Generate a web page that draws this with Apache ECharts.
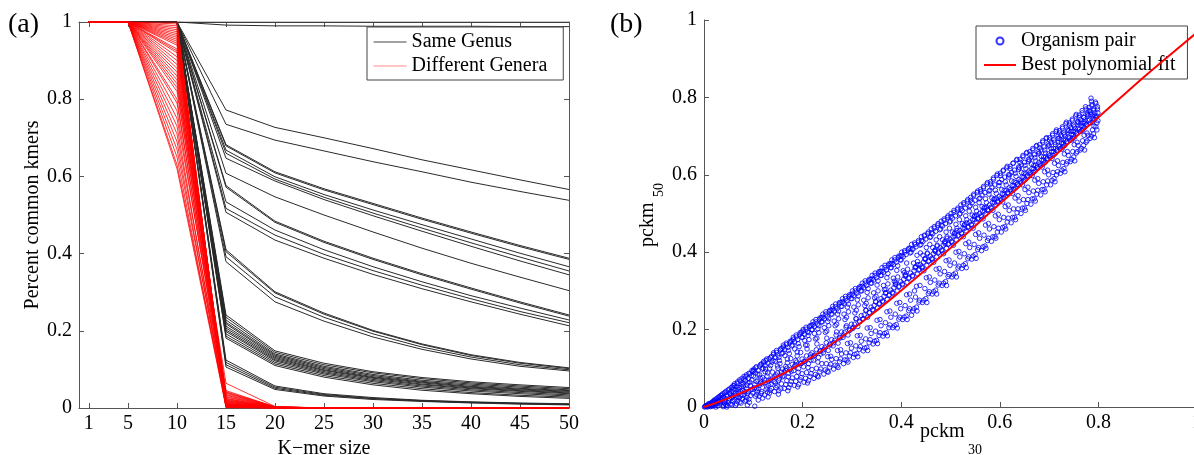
<!DOCTYPE html>
<html><head><meta charset="utf-8">
<script src="https://cdn.jsdelivr.net/npm/echarts@6/dist/echarts.min.js"></script>
<style>html,body{margin:0;padding:0;background:#fff;overflow:hidden}#chart{width:1194px;height:455px}</style>
</head><body><div id="chart"></div>
<script>
// ---------- Panel (a) data ----------
const kmerSizes = [1, 5, 10, 15, 20, 25, 30, 35, 40, 45, 50];
const kmerTicks = [1, 5, 10, 15, 20, 25, 30, 35, 40, 45, 50];

// Same genus: percent common kmers at each k-mer size
const sameGenusLines = [
  [1,1,1,1.000,1.000,1.000,1.000,1.000,1.000,1.000,1.000],
  [1,1,1,0.992,0.990,0.990,0.989,0.989,0.989,0.988,0.988],
  [1,1,1,0.772,0.727,0.700,0.672,0.643,0.617,0.591,0.566],
  [1,1,1,0.735,0.694,0.666,0.638,0.612,0.585,0.561,0.538],
  [1,1,1,0.682,0.612,0.568,0.530,0.492,0.456,0.421,0.388],
  [1,1,1,0.679,0.609,0.565,0.527,0.489,0.453,0.418,0.385],
  [1,1,1,0.668,0.599,0.553,0.513,0.475,0.438,0.401,0.366],
  [1,1,1,0.660,0.593,0.546,0.505,0.466,0.428,0.391,0.355],
  [1,1,1,0.647,0.588,0.540,0.498,0.458,0.419,0.381,0.345],
  [1,1,1,0.608,0.547,0.500,0.456,0.414,0.375,0.339,0.304],
  [1,1,1,0.576,0.484,0.432,0.388,0.348,0.311,0.275,0.241],
  [1,1,1,0.572,0.481,0.429,0.385,0.345,0.308,0.272,0.238],
  [1,1,1,0.534,0.461,0.410,0.366,0.327,0.291,0.259,0.228],
  [1,1,1,0.517,0.448,0.398,0.356,0.318,0.283,0.250,0.221],
  [1,1,1,0.507,0.435,0.388,0.346,0.309,0.275,0.243,0.213],
  [1,1,1,0.410,0.301,0.246,0.201,0.166,0.138,0.118,0.104],
  [1,1,1,0.405,0.298,0.243,0.199,0.164,0.136,0.116,0.102],
  [1,1,1,0.392,0.288,0.235,0.192,0.158,0.132,0.112,0.099],
  [1,1,1,0.379,0.275,0.225,0.184,0.152,0.127,0.108,0.096],
  [1,1,1,0.241,0.148,0.116,0.094,0.079,0.068,0.060,0.053],
  [1,1,1,0.235,0.144,0.112,0.091,0.076,0.065,0.057,0.050],
  [1,1,1,0.228,0.140,0.108,0.087,0.072,0.062,0.054,0.047],
  [1,1,1,0.222,0.137,0.105,0.084,0.069,0.059,0.051,0.045],
  [1,1,1,0.218,0.134,0.102,0.081,0.067,0.056,0.049,0.043],
  [1,1,1,0.212,0.131,0.099,0.079,0.065,0.054,0.047,0.041],
  [1,1,1,0.207,0.128,0.097,0.077,0.062,0.052,0.045,0.039],
  [1,1,1,0.202,0.125,0.094,0.074,0.060,0.050,0.043,0.037],
  [1,1,1,0.198,0.122,0.091,0.071,0.057,0.047,0.040,0.034],
  [1,1,1,0.192,0.118,0.088,0.068,0.054,0.044,0.037,0.031],
  [1,1,1,0.186,0.114,0.084,0.064,0.050,0.040,0.033,0.028],
  [1,1,1,0.181,0.110,0.080,0.060,0.046,0.037,0.030,0.025],
  [1,1,1,0.124,0.057,0.037,0.027,0.020,0.016,0.013,0.011],
  [1,1,1,0.118,0.054,0.035,0.025,0.019,0.015,0.012,0.010],
  [1,1,1,0.112,0.051,0.033,0.024,0.018,0.014,0.011,0.009],
  [1,1,1,0.106,0.048,0.031,0.022,0.017,0.013,0.010,0.008]
];

// Different genera
const differentGeneraLines = [
  [1,1,1.000,0.001,0.000,0,0,0,0,0,0],
  [1,1,0.995,0.004,0.000,0,0,0,0,0,0],
  [1,1,0.990,0.002,0.000,0,0,0,0,0,0],
  [1,1,0.985,0.010,0.001,0,0,0,0,0,0],
  [1,1,0.980,0.006,0.000,0,0,0,0,0,0],
  [1,1,0.975,0.015,0.001,0,0,0,0,0,0],
  [1,1,0.970,0.003,0.000,0,0,0,0,0,0],
  [1,1,0.965,0.020,0.002,0,0,0,0,0,0],
  [1,1,0.960,0.008,0.000,0,0,0,0,0,0],
  [1,1,0.955,0.012,0.001,0,0,0,0,0,0],
  [1,1,0.950,0.025,0.002,0,0,0,0,0,0],
  [1,1,0.945,0.005,0.000,0,0,0,0,0,0],
  [1,1,0.940,0.030,0.002,0,0,0,0,0,0],
  [1,1,0.930,0.009,0.000,0,0,0,0,0,0],
  [1,1,0.925,0.018,0.001,0,0,0,0,0,0],
  [1,1,0.920,0.035,0.003,0,0,0,0,0,0],
  [1,1,0.910,0.004,0.000,0,0,0,0,0,0],
  [1,1,0.900,0.022,0.001,0,0,0,0,0,0],
  [1,1,0.890,0.040,0.003,0,0,0,0,0,0],
  [1,1,0.880,0.007,0.000,0,0,0,0,0,0],
  [1,1,0.870,0.028,0.002,0,0,0,0,0,0],
  [1,1,0.860,0.045,0.003,0,0,0,0,0,0],
  [1,1,0.850,0.011,0.000,0,0,0,0,0,0],
  [1,1,0.840,0.064,0.004,0,0,0,0,0,0],
  [1,1,0.830,0.016,0.001,0,0,0,0,0,0],
  [1,1,0.820,0.033,0.002,0,0,0,0,0,0],
  [1,1,0.800,0.006,0.000,0,0,0,0,0,0],
  [1,1,0.790,0.038,0.002,0,0,0,0,0,0],
  [1,1,0.770,0.013,0.001,0,0,0,0,0,0],
  [1,1,0.750,0.042,0.003,0,0,0,0,0,0],
  [1,1,0.730,0.002,0.000,0,0,0,0,0,0],
  [1,1,0.710,0.024,0.001,0,0,0,0,0,0],
  [1,1,0.690,0.005,0.000,0,0,0,0,0,0],
  [1,1,0.670,0.019,0.001,0,0,0,0,0,0],
  [1,1,0.650,0.001,0.000,0,0,0,0,0,0],
  [1,1,0.630,0.010,0.000,0,0,0,0,0,0],
  [1,1,0.620,0.003,0.000,0,0,0,0,0,0]
];

// ---------- Panel (b) data ----------
const fitX = [0,0.05,0.1,0.15,0.2,0.25,0.3,0.35,0.4,0.45,0.5,0.55,0.6,0.65,0.7,0.75,0.8,0.85,0.9,0.95,1.0];
const fitY = [0,0.023,0.050,0.080,0.114,0.155,0.200,0.249,0.301,0.355,0.411,0.468,0.525,0.581,0.637,0.693,0.749,0.805,0.861,0.915,0.968];

const organismPairsA = [
[0.002,0.001],[0.004,0.003],[0.006,0.002],[0.008,0.006],[0.010,0.004],[0.012,0.009],[0.014,0.003],[0.016,0.012],[0.018,0.007],[0.019,0.015],[0.007,0.000],[0.013,0.001],[0.017,0.002],
[0.021,0.018],[0.023,0.006],[0.025,0.011],[0.026,0.022],[0.028,0.003],[0.030,0.014],[0.031,0.027],[0.033,0.008],[0.035,0.019],[0.036,0.031],[0.038,0.012],[0.039,0.001],[0.024,0.000],[0.034,0.024],
[0.041,0.036],[0.042,0.010],[0.044,0.021],[0.045,0.041],[0.047,0.004],[0.048,0.028],[0.050,0.016],[0.051,0.046],[0.053,0.033],[0.054,0.008],[0.056,0.024],[0.057,0.051],[0.058,0.015],[0.059,0.039],[0.046,0.000],
[0.061,0.055],[0.062,0.019],[0.063,0.030],[0.065,0.044],[0.066,0.008],[0.067,0.061],[0.069,0.026],[0.070,0.037],[0.071,0.050],[0.073,0.013],[0.074,0.067],[0.075,0.031],[0.077,0.058],[0.078,0.021],[0.079,0.043],[0.064,0.004],
[0.081,0.072],[0.082,0.033],[0.083,0.015],[0.085,0.078],[0.086,0.047],[0.087,0.025],[0.089,0.062],[0.090,0.040],[0.091,0.087],[0.092,0.012],[0.094,0.055],[0.095,0.030],[0.096,0.081],[0.098,0.046],[0.099,0.092],[0.088,0.005],
[0.101,0.094],[0.102,0.050],[0.103,0.002],[0.104,0.028],[0.105,0.101],[0.106,0.066],[0.108,0.041],[0.109,0.085],[0.110,0.018],[0.112,0.056],[0.113,0.106],[0.114,0.075],[0.116,0.035],[0.117,0.111],[0.118,0.060],[0.119,0.023],[0.107,0.047],
[0.121,0.114],[0.122,0.063],[0.123,0.031],[0.125,0.098],[0.126,0.120],[0.127,0.052],[0.128,0.080],[0.130,0.026],[0.131,0.068],[0.132,0.125],[0.134,0.043],[0.135,0.107],[0.136,0.059],[0.137,0.131],[0.139,0.075],[0.129,0.038],[0.124,0.091],
[0.141,0.136],[0.142,0.066],[0.143,0.040],[0.144,0.118],[0.146,0.083],[0.147,0.141],[0.148,0.055],[0.150,0.100],[0.151,0.033],[0.152,0.128],[0.153,0.073],[0.155,0.147],[0.156,0.047],[0.157,0.090],[0.158,0.152],[0.159,0.078],[0.145,0.062],[0.154,0.112],
[0.161,0.155],[0.162,0.080],[0.163,0.048],[0.164,0.133],[0.165,0.095],[0.167,0.161],[0.168,0.068],[0.169,0.114],[0.170,0.042],[0.171,0.146],[0.172,0.087],[0.174,0.166],[0.175,0.058],[0.176,0.125],[0.177,0.092],[0.178,0.171],[0.179,0.075],[0.166,0.105],
[0.181,0.175],[0.182,0.094],[0.183,0.056],[0.184,0.150],[0.185,0.108],[0.187,0.181],[0.188,0.079],[0.189,0.132],[0.190,0.052],[0.191,0.164],[0.192,0.099],[0.194,0.187],[0.195,0.070],[0.196,0.141],[0.197,0.112],[0.198,0.193],[0.199,0.086],[0.186,0.120],
[0.201,0.196],[0.202,0.104],[0.203,0.064],[0.204,0.172],[0.205,0.118],[0.207,0.201],[0.208,0.089],[0.209,0.150],[0.210,0.062],[0.211,0.185],[0.212,0.112],[0.214,0.207],[0.215,0.079],[0.216,0.135],[0.217,0.121],[0.218,0.211],[0.219,0.097],[0.206,0.160],[0.213,0.192],
[0.221,0.213],[0.222,0.121],[0.223,0.074],[0.224,0.190],[0.225,0.134],[0.227,0.220],[0.228,0.100],[0.229,0.163],[0.230,0.080],[0.231,0.202],[0.232,0.128],[0.234,0.226],[0.235,0.091],[0.236,0.145],[0.237,0.137],[0.238,0.231],[0.239,0.112],[0.226,0.176],[0.233,0.210],
[0.241,0.232],[0.242,0.140],[0.243,0.085],[0.244,0.205],[0.245,0.153],[0.247,0.240],[0.248,0.112],[0.249,0.178],[0.250,0.092],[0.251,0.221],[0.252,0.146],[0.254,0.246],[0.255,0.103],[0.256,0.160],[0.257,0.131],[0.258,0.250],[0.259,0.123],[0.246,0.193],[0.253,0.228],
[0.261,0.253],[0.262,0.158],[0.263,0.098],[0.264,0.222],[0.265,0.172],[0.267,0.259],[0.268,0.125],[0.269,0.194],[0.270,0.106],[0.271,0.240],[0.272,0.165],[0.274,0.266],[0.275,0.117],[0.276,0.178],[0.277,0.148],[0.278,0.270],[0.279,0.137],[0.266,0.210],[0.273,0.248],
[0.281,0.272],[0.282,0.180],[0.283,0.112],[0.284,0.240],[0.285,0.192],[0.287,0.280],[0.288,0.140],[0.289,0.210],[0.290,0.121],[0.291,0.258],[0.292,0.186],[0.294,0.285],[0.295,0.132],[0.296,0.198],[0.297,0.166],[0.298,0.290],[0.299,0.152],[0.286,0.226],[0.293,0.266],
[0.301,0.292],[0.302,0.203],[0.303,0.128],[0.304,0.258],[0.305,0.214],[0.307,0.300],[0.308,0.158],[0.309,0.228],[0.310,0.138],[0.311,0.277],[0.312,0.208],[0.314,0.306],[0.315,0.149],[0.316,0.220],[0.317,0.185],[0.318,0.311],[0.319,0.170],[0.306,0.243],[0.313,0.287],
[0.321,0.312],[0.322,0.227],[0.323,0.145],[0.324,0.276],[0.325,0.238],[0.327,0.320],[0.328,0.176],[0.329,0.250],[0.330,0.154],[0.331,0.296],[0.332,0.232],[0.334,0.326],[0.335,0.166],[0.336,0.244],[0.337,0.205],[0.338,0.330],[0.339,0.190],[0.326,0.262],[0.333,0.306],
[0.341,0.331],[0.342,0.252],[0.343,0.163],[0.344,0.295],[0.345,0.262],[0.347,0.340],[0.348,0.196],[0.349,0.272],[0.350,0.172],[0.351,0.315],[0.352,0.256],[0.354,0.346],[0.355,0.185],[0.356,0.268],[0.357,0.226],[0.358,0.350],[0.359,0.210],[0.346,0.282],[0.353,0.326],
[0.361,0.351],[0.362,0.274],[0.363,0.183],[0.364,0.314],[0.365,0.286],[0.367,0.360],[0.368,0.218],[0.369,0.296],[0.370,0.192],[0.371,0.334],[0.372,0.278],[0.374,0.366],[0.375,0.205],[0.376,0.290],[0.377,0.248],[0.378,0.370],[0.379,0.232],[0.366,0.303],[0.373,0.345],
[0.381,0.371],[0.382,0.296],[0.383,0.205],[0.384,0.333],[0.385,0.308],[0.387,0.380],[0.388,0.240],[0.389,0.318],[0.390,0.213],[0.391,0.353],[0.392,0.300],[0.394,0.386],[0.395,0.227],[0.396,0.312],[0.397,0.270],[0.398,0.390],[0.399,0.254],[0.386,0.325],[0.393,0.365],
[0.401,0.391],[0.402,0.318],[0.403,0.226],[0.404,0.352],[0.405,0.330],[0.407,0.400],[0.408,0.262],[0.409,0.340],[0.410,0.235],[0.411,0.372],[0.412,0.322],[0.414,0.406],[0.415,0.249],[0.416,0.334],[0.417,0.292],[0.418,0.410],[0.419,0.276],[0.406,0.347],[0.421,0.237],
[0.422,0.408],[0.423,0.340],[0.424,0.248],[0.425,0.372],[0.426,0.352],[0.428,0.420],[0.429,0.284],[0.430,0.362],[0.431,0.258],[0.432,0.392],[0.433,0.344],[0.435,0.426],[0.436,0.271],[0.437,0.356],[0.438,0.314],[0.439,0.398],[0.427,0.300],[0.434,0.368],
[0.441,0.430],[0.442,0.362],[0.443,0.270],[0.444,0.392],[0.445,0.374],[0.447,0.442],[0.448,0.306],[0.449,0.384],[0.450,0.280],[0.451,0.412],[0.452,0.366],[0.454,0.448],[0.455,0.293],[0.456,0.378],[0.457,0.336],[0.458,0.420],[0.459,0.322],[0.446,0.352],[0.453,0.398],
[0.461,0.450],[0.462,0.384],[0.463,0.292],[0.464,0.412],[0.465,0.396],[0.467,0.462],[0.468,0.328],[0.469,0.406],[0.470,0.302],[0.471,0.432],[0.472,0.388],[0.474,0.470],[0.475,0.315],[0.476,0.400],[0.477,0.358],[0.478,0.440],[0.479,0.344],[0.466,0.374],[0.473,0.418],
[0.481,0.470],[0.482,0.406],[0.483,0.314],[0.484,0.432],[0.485,0.418],[0.487,0.482],[0.488,0.350],[0.489,0.428],[0.490,0.324],[0.491,0.452],[0.492,0.410],[0.494,0.490],[0.495,0.337],[0.496,0.422],[0.497,0.380],[0.498,0.462],[0.499,0.366],[0.486,0.396],[0.493,0.440],
[0.501,0.492],[0.502,0.428],[0.503,0.336],[0.504,0.452],[0.505,0.440],[0.507,0.503],[0.508,0.372],[0.509,0.450],[0.510,0.346],[0.511,0.472],[0.512,0.432],[0.514,0.510],[0.515,0.359],[0.516,0.444],[0.517,0.402],[0.518,0.484],[0.519,0.388],[0.506,0.418],[0.513,0.462],
[0.521,0.512],[0.522,0.450],[0.523,0.358],[0.524,0.474],[0.525,0.462],[0.527,0.524],[0.528,0.396],[0.529,0.472],[0.530,0.370],[0.531,0.494],[0.532,0.455],[0.534,0.532],[0.535,0.383],[0.536,0.466],[0.537,0.426],[0.538,0.506],[0.539,0.412],[0.526,0.440],[0.533,0.484],
[0.541,0.534],[0.542,0.472],[0.543,0.382],[0.544,0.496],[0.545,0.484],[0.547,0.546],[0.548,0.420],[0.549,0.494],[0.550,0.394],[0.551,0.516],[0.552,0.478],[0.554,0.554],[0.555,0.407],[0.556,0.488],[0.557,0.450],[0.558,0.528],[0.559,0.436],[0.546,0.462],[0.553,0.506],
[0.561,0.556],[0.562,0.494],[0.563,0.404],[0.564,0.518],[0.565,0.506],[0.567,0.566],[0.568,0.444],[0.569,0.516],[0.570,0.416],[0.571,0.538],[0.572,0.500],[0.574,0.576],[0.575,0.430],[0.576,0.510],[0.577,0.474],[0.578,0.550],[0.579,0.460],[0.566,0.486],[0.573,0.528],
[0.581,0.576],[0.582,0.516],[0.583,0.428],[0.584,0.540],[0.585,0.528],[0.587,0.588],[0.588,0.466],[0.589,0.538],[0.590,0.440],[0.591,0.560],[0.592,0.522],[0.594,0.598],[0.595,0.452],[0.596,0.532],[0.597,0.498],[0.598,0.572],[0.599,0.484],[0.586,0.508],[0.593,0.552],
[0.601,0.598],[0.602,0.540],[0.603,0.452],[0.604,0.562],[0.605,0.550],[0.607,0.610],[0.608,0.490],[0.609,0.560],[0.610,0.466],[0.611,0.582],[0.612,0.545],[0.614,0.618],[0.615,0.478],[0.616,0.554],[0.617,0.522],[0.618,0.594],[0.619,0.508],[0.606,0.530],[0.613,0.574],
[0.621,0.616],[0.622,0.562],[0.623,0.476],[0.624,0.584],[0.625,0.572],[0.627,0.630],[0.628,0.512],[0.629,0.582],[0.630,0.490],[0.631,0.604],[0.632,0.566],[0.634,0.638],[0.635,0.502],[0.636,0.576],[0.637,0.546],[0.638,0.614],[0.639,0.532],[0.626,0.552],[0.633,0.596],
[0.641,0.632],[0.642,0.584],[0.643,0.500],[0.644,0.606],[0.645,0.594],[0.647,0.650],[0.648,0.536],[0.649,0.604],[0.650,0.514],[0.651,0.624],[0.652,0.588],[0.654,0.656],[0.655,0.526],[0.656,0.598],[0.657,0.568],[0.658,0.634],[0.659,0.554],[0.646,0.574],[0.653,0.616],
[0.661,0.652],[0.662,0.606],[0.663,0.524],[0.664,0.628],[0.665,0.616],[0.667,0.668],[0.668,0.558],[0.669,0.624],[0.670,0.538],[0.671,0.644],[0.672,0.610],[0.674,0.674],[0.675,0.550],[0.676,0.620],[0.677,0.590],[0.678,0.654],[0.679,0.578],[0.666,0.598],[0.673,0.636],
[0.681,0.670],[0.682,0.628],[0.683,0.548],[0.684,0.648],[0.685,0.638],[0.687,0.688],[0.688,0.582],[0.689,0.646],[0.690,0.562],[0.691,0.664],[0.692,0.632],[0.694,0.694],[0.695,0.574],[0.696,0.642],[0.697,0.612],[0.698,0.674],[0.699,0.600],[0.686,0.620],[0.693,0.656],
[0.701,0.690],[0.702,0.650],[0.703,0.574],[0.704,0.668],[0.705,0.660],[0.707,0.706],[0.708,0.606],[0.709,0.668],[0.710,0.590],[0.711,0.684],[0.712,0.654],[0.714,0.712],[0.715,0.600],[0.716,0.664],[0.717,0.636],[0.718,0.694],[0.719,0.624],[0.706,0.642],[0.713,0.678],
[0.721,0.708],[0.722,0.674],[0.723,0.604],[0.724,0.690],[0.725,0.682],[0.727,0.724],[0.728,0.632],[0.729,0.690],[0.730,0.616],[0.731,0.704],[0.732,0.676],[0.734,0.732],[0.735,0.628],[0.736,0.686],[0.737,0.660],[0.738,0.714],[0.739,0.650],[0.726,0.666],[0.733,0.700],
[0.741,0.728],[0.742,0.696],[0.743,0.634],[0.744,0.712],[0.745,0.704],[0.747,0.744],[0.748,0.660],[0.749,0.712],[0.750,0.646],[0.751,0.724],[0.752,0.698],[0.754,0.752],[0.755,0.656],[0.756,0.708],[0.757,0.684],[0.758,0.736],[0.759,0.676],[0.746,0.690],[0.753,0.720],
[0.761,0.748],[0.762,0.718],[0.763,0.664],[0.764,0.734],[0.765,0.726],[0.767,0.766],[0.768,0.688],[0.769,0.734],[0.770,0.676],[0.771,0.748],[0.772,0.722],[0.774,0.776],[0.775,0.684],[0.776,0.730],[0.777,0.708],[0.778,0.760],[0.779,0.702],[0.766,0.714],[0.773,0.742],
[0.781,0.766],[0.782,0.742],[0.783,0.694],[0.784,0.756],[0.785,0.798],[0.787,0.782],[0.788,0.716],[0.789,0.752],[0.790,0.706],[0.791,0.770],[0.792,0.744],[0.794,0.788],[0.795,0.724],[0.796,0.752],[0.797,0.734],[0.798,0.776],[0.799,0.740],[0.786,0.790],[0.793,0.760]
];

const organismPairsB = [
[0.001,0.000],[0.003,0.002],[0.005,0.004],[0.009,0.002],[0.011,0.007],[0.015,0.010],[0.015,0.005],[0.018,0.013],[0.019,0.004],[0.010,0.009],
[0.020,0.010],[0.022,0.015],[0.024,0.020],[0.027,0.009],[0.029,0.025],[0.032,0.017],[0.034,0.030],[0.037,0.023],[0.038,0.034],[0.039,0.005],[0.027,0.017],[0.033,0.013],
[0.040,0.026],[0.043,0.038],[0.043,0.015],[0.046,0.031],[0.049,0.044],[0.049,0.011],[0.052,0.021],[0.055,0.050],[0.055,0.040],[0.058,0.027],[0.059,0.055],[0.057,0.006],[0.044,0.006],[0.052,0.036],
[0.060,0.046],[0.062,0.060],[0.064,0.036],[0.066,0.052],[0.068,0.016],[0.068,0.065],[0.070,0.045],[0.072,0.024],[0.072,0.070],[0.074,0.040],[0.076,0.052],[0.077,0.074],[0.079,0.030],[0.079,0.062],[0.066,0.024],[0.075,0.010],
[0.080,0.054],[0.081,0.079],[0.083,0.040],[0.084,0.068],[0.086,0.083],[0.087,0.056],[0.088,0.034],[0.090,0.074],[0.091,0.020],[0.093,0.086],[0.093,0.064],[0.095,0.044],[0.097,0.070],[0.097,0.094],[0.099,0.036],[0.085,0.018],
[0.100,0.080],[0.101,0.098],[0.103,0.058],[0.104,0.088],[0.106,0.104],[0.107,0.032],[0.109,0.070],[0.110,0.095],[0.111,0.047],[0.113,0.083],[0.115,0.110],[0.115,0.062],[0.117,0.040],[0.118,0.098],[0.119,0.076],[0.112,0.028],
[0.120,0.100],[0.121,0.118],[0.123,0.070],[0.124,0.108],[0.126,0.046],[0.127,0.124],[0.129,0.088],[0.130,0.113],[0.131,0.056],[0.133,0.100],[0.135,0.128],[0.135,0.070],[0.137,0.048],[0.138,0.116],[0.139,0.090],[0.133,0.036],
[0.140,0.120],[0.141,0.140],[0.143,0.078],[0.144,0.128],[0.146,0.050],[0.147,0.146],[0.149,0.106],[0.150,0.134],[0.151,0.068],[0.153,0.120],[0.155,0.150],[0.155,0.082],[0.157,0.060],[0.158,0.138],[0.159,0.098],[0.152,0.042],[0.149,0.088],
[0.160,0.140],[0.161,0.160],[0.163,0.090],[0.164,0.148],[0.166,0.058],[0.167,0.165],[0.169,0.124],[0.170,0.154],[0.171,0.078],[0.173,0.138],[0.175,0.170],[0.175,0.097],[0.177,0.066],[0.178,0.158],[0.179,0.110],[0.172,0.050],[0.168,0.100],
[0.180,0.160],[0.181,0.180],[0.183,0.104],[0.184,0.168],[0.186,0.066],[0.187,0.186],[0.189,0.142],[0.190,0.174],[0.191,0.090],[0.193,0.156],[0.195,0.192],[0.195,0.112],[0.197,0.076],[0.198,0.180],[0.199,0.124],[0.192,0.058],[0.188,0.116],
[0.200,0.180],[0.201,0.200],[0.203,0.118],[0.204,0.188],[0.206,0.074],[0.207,0.206],[0.209,0.160],[0.210,0.194],[0.211,0.102],[0.213,0.174],[0.215,0.210],[0.215,0.128],[0.217,0.086],[0.218,0.200],[0.219,0.140],[0.212,0.068],[0.208,0.132],
[0.220,0.200],[0.221,0.220],[0.223,0.132],[0.224,0.208],[0.226,0.084],[0.227,0.226],[0.229,0.178],[0.230,0.214],[0.231,0.116],[0.233,0.192],[0.235,0.230],[0.235,0.144],[0.237,0.098],[0.238,0.220],[0.239,0.156],[0.232,0.078],[0.228,0.148],
[0.240,0.220],[0.241,0.240],[0.243,0.148],[0.244,0.228],[0.246,0.096],[0.247,0.246],[0.249,0.196],[0.250,0.234],[0.251,0.130],[0.253,0.210],[0.255,0.250],[0.255,0.162],[0.257,0.110],[0.258,0.240],[0.259,0.174],[0.252,0.090],[0.248,0.166],
[0.260,0.240],[0.261,0.260],[0.263,0.166],[0.264,0.248],[0.266,0.108],[0.267,0.266],[0.269,0.214],[0.270,0.254],[0.271,0.146],[0.273,0.228],[0.275,0.270],[0.275,0.180],[0.277,0.124],[0.278,0.260],[0.279,0.194],[0.272,0.102],[0.268,0.186],
[0.280,0.260],[0.281,0.280],[0.283,0.186],[0.284,0.268],[0.286,0.122],[0.287,0.286],[0.289,0.232],[0.290,0.274],[0.291,0.164],[0.293,0.246],[0.295,0.290],[0.295,0.200],[0.297,0.140],[0.298,0.280],[0.299,0.214],[0.292,0.116],[0.288,0.206],
[0.300,0.280],[0.301,0.300],[0.303,0.206],[0.304,0.288],[0.306,0.136],[0.307,0.306],[0.309,0.250],[0.310,0.294],[0.311,0.184],[0.313,0.264],[0.315,0.310],[0.315,0.222],[0.317,0.156],[0.318,0.300],[0.319,0.236],[0.312,0.130],[0.308,0.228],
[0.320,0.300],[0.321,0.320],[0.323,0.228],[0.324,0.308],[0.326,0.152],[0.327,0.326],[0.329,0.268],[0.330,0.314],[0.331,0.204],[0.333,0.282],[0.335,0.330],[0.335,0.244],[0.337,0.174],[0.338,0.320],[0.339,0.258],[0.332,0.146],[0.328,0.250],
[0.340,0.320],[0.341,0.340],[0.343,0.250],[0.344,0.328],[0.346,0.170],[0.347,0.346],[0.349,0.286],[0.350,0.334],[0.351,0.224],[0.353,0.300],[0.355,0.350],[0.355,0.266],[0.357,0.192],[0.358,0.340],[0.359,0.280],[0.352,0.164],[0.348,0.272],
[0.360,0.340],[0.361,0.360],[0.363,0.272],[0.364,0.348],[0.366,0.190],[0.367,0.366],[0.369,0.304],[0.370,0.354],[0.371,0.246],[0.373,0.318],[0.375,0.370],[0.375,0.288],[0.377,0.212],[0.378,0.360],[0.379,0.302],[0.372,0.184],[0.368,0.294],
[0.380,0.360],[0.381,0.380],[0.383,0.294],[0.384,0.368],[0.386,0.210],[0.387,0.386],[0.389,0.322],[0.390,0.374],[0.391,0.268],[0.393,0.336],[0.395,0.390],[0.395,0.310],[0.397,0.232],[0.398,0.380],[0.399,0.324],[0.392,0.204],[0.388,0.316],
[0.400,0.380],[0.401,0.400],[0.403,0.316],[0.404,0.388],[0.406,0.232],[0.407,0.404],[0.409,0.342],[0.410,0.394],[0.411,0.290],[0.413,0.356],[0.415,0.410],[0.415,0.332],[0.417,0.254],[0.418,0.398],[0.419,0.346],[0.412,0.226],[0.408,0.338],
[0.420,0.400],[0.421,0.420],[0.423,0.338],[0.424,0.408],[0.426,0.254],[0.427,0.424],[0.429,0.362],[0.430,0.414],[0.431,0.312],[0.433,0.376],[0.435,0.430],[0.435,0.354],[0.437,0.276],[0.438,0.418],[0.439,0.368],[0.432,0.248],[0.428,0.360],
[0.440,0.420],[0.441,0.440],[0.443,0.360],[0.444,0.428],[0.446,0.276],[0.447,0.444],[0.449,0.382],[0.450,0.434],[0.451,0.334],[0.453,0.396],[0.455,0.452],[0.455,0.376],[0.457,0.298],[0.458,0.438],[0.459,0.390],[0.452,0.270],[0.448,0.382],
[0.460,0.440],[0.461,0.460],[0.463,0.382],[0.464,0.448],[0.466,0.298],[0.467,0.466],[0.469,0.402],[0.470,0.454],[0.471,0.356],[0.473,0.416],[0.475,0.474],[0.475,0.398],[0.477,0.320],[0.478,0.458],[0.479,0.412],[0.472,0.292],[0.468,0.404],
[0.480,0.460],[0.481,0.480],[0.483,0.404],[0.484,0.468],[0.486,0.320],[0.487,0.486],[0.489,0.422],[0.490,0.474],[0.491,0.378],[0.493,0.436],[0.495,0.494],[0.495,0.420],[0.497,0.342],[0.498,0.478],[0.499,0.434],[0.492,0.314],[0.488,0.426],
[0.500,0.480],[0.501,0.500],[0.503,0.426],[0.504,0.488],[0.506,0.342],[0.507,0.508],[0.509,0.442],[0.510,0.494],[0.511,0.400],[0.513,0.456],[0.515,0.514],[0.515,0.442],[0.517,0.364],[0.518,0.498],[0.519,0.456],[0.512,0.336],[0.508,0.448],
[0.520,0.500],[0.521,0.522],[0.523,0.448],[0.524,0.508],[0.526,0.366],[0.527,0.528],[0.529,0.462],[0.530,0.514],[0.531,0.422],[0.533,0.476],[0.535,0.536],[0.535,0.464],[0.537,0.388],[0.538,0.518],[0.539,0.478],[0.532,0.360],[0.528,0.470],
[0.540,0.520],[0.541,0.542],[0.543,0.470],[0.544,0.528],[0.546,0.390],[0.547,0.550],[0.549,0.484],[0.550,0.534],[0.551,0.446],[0.553,0.496],[0.555,0.558],[0.555,0.486],[0.557,0.412],[0.558,0.538],[0.559,0.500],[0.552,0.384],[0.548,0.492],
[0.560,0.540],[0.561,0.562],[0.563,0.492],[0.564,0.548],[0.566,0.414],[0.567,0.570],[0.569,0.506],[0.570,0.554],[0.571,0.470],[0.573,0.516],[0.575,0.580],[0.575,0.508],[0.577,0.436],[0.578,0.558],[0.579,0.522],[0.572,0.410],[0.568,0.514],
[0.580,0.560],[0.581,0.582],[0.583,0.514],[0.584,0.568],[0.586,0.440],[0.587,0.592],[0.589,0.528],[0.590,0.574],[0.591,0.494],[0.593,0.538],[0.595,0.602],[0.595,0.530],[0.597,0.462],[0.598,0.580],[0.599,0.544],[0.592,0.436],[0.588,0.536],
[0.600,0.580],[0.601,0.604],[0.603,0.536],[0.604,0.588],[0.606,0.464],[0.607,0.612],[0.609,0.550],[0.610,0.594],[0.611,0.518],[0.613,0.560],[0.615,0.622],[0.615,0.552],[0.617,0.488],[0.618,0.600],[0.619,0.566],[0.612,0.460],[0.608,0.540],
[0.620,0.600],[0.621,0.622],[0.623,0.558],[0.624,0.606],[0.626,0.490],[0.627,0.630],[0.629,0.572],[0.630,0.612],[0.631,0.540],[0.633,0.580],[0.635,0.640],[0.635,0.574],[0.637,0.512],[0.638,0.620],[0.639,0.588],[0.632,0.484],[0.628,0.562],
[0.640,0.618],[0.641,0.640],[0.643,0.580],[0.644,0.626],[0.646,0.514],[0.647,0.646],[0.649,0.594],[0.650,0.632],[0.651,0.562],[0.653,0.602],[0.655,0.658],[0.655,0.596],[0.657,0.536],[0.658,0.640],[0.659,0.610],[0.652,0.508],[0.648,0.584],
[0.660,0.638],[0.661,0.660],[0.663,0.602],[0.664,0.646],[0.666,0.538],[0.667,0.664],[0.669,0.616],[0.670,0.652],[0.671,0.586],[0.673,0.624],[0.675,0.676],[0.675,0.618],[0.677,0.560],[0.678,0.660],[0.679,0.632],[0.672,0.532],[0.668,0.606],
[0.680,0.656],[0.681,0.678],[0.683,0.624],[0.684,0.664],[0.686,0.562],[0.687,0.684],[0.689,0.638],[0.690,0.672],[0.691,0.608],[0.693,0.646],[0.695,0.696],[0.695,0.640],[0.697,0.584],[0.698,0.680],[0.699,0.654],[0.692,0.556],[0.688,0.628],
[0.700,0.676],[0.701,0.696],[0.703,0.646],[0.704,0.684],[0.706,0.586],[0.707,0.702],[0.709,0.660],[0.710,0.690],[0.711,0.630],[0.713,0.668],[0.715,0.716],[0.715,0.662],[0.717,0.608],[0.718,0.700],[0.719,0.676],[0.712,0.582],[0.708,0.650],
[0.720,0.694],[0.721,0.714],[0.723,0.668],[0.724,0.702],[0.726,0.612],[0.727,0.720],[0.729,0.682],[0.730,0.708],[0.731,0.654],[0.733,0.690],[0.735,0.736],[0.735,0.684],[0.737,0.634],[0.738,0.718],[0.739,0.698],[0.732,0.608],[0.728,0.672],
[0.740,0.714],[0.741,0.734],[0.743,0.690],[0.744,0.722],[0.746,0.640],[0.747,0.740],[0.749,0.704],[0.750,0.728],[0.751,0.678],[0.753,0.712],[0.755,0.756],[0.755,0.706],[0.757,0.660],[0.758,0.738],[0.759,0.720],[0.752,0.636],[0.748,0.694],
[0.760,0.734],[0.761,0.754],[0.763,0.712],[0.764,0.742],[0.766,0.668],[0.767,0.760],[0.769,0.726],[0.770,0.748],[0.771,0.702],[0.773,0.734],[0.775,0.770],[0.775,0.728],[0.777,0.688],[0.778,0.756],[0.779,0.740],[0.772,0.664],[0.768,0.716],
[0.780,0.754],[0.781,0.774],[0.783,0.734],[0.784,0.762],[0.786,0.700],[0.787,0.778],[0.789,0.746],[0.790,0.766],[0.791,0.726],[0.793,0.752],[0.795,0.784],[0.795,0.748],[0.797,0.716],[0.798,0.770],[0.799,0.760],[0.792,0.696],[0.788,0.736]
];

// ---------- Build chart ----------
const FONT = "'Liberation Serif','Times New Roman',serif";
const AX = '#555';
const tickFont = {fontFamily: FONT, fontSize: 20, color: '#000'};

const series = [];
sameGenusLines.forEach(vals => series.push({
  type: 'line', name: 'Same Genus', xAxisIndex: 0, yAxisIndex: 0,
  data: kmerSizes.map((k, i) => [k, vals[i]]),
  symbol: 'none', silent: true,
  lineStyle: {color: '#2a2a2a', width: 1}, itemStyle: {color: '#2a2a2a'}
}));
differentGeneraLines.forEach(vals => series.push({
  type: 'line', name: 'Different Genera', xAxisIndex: 0, yAxisIndex: 0,
  data: kmerSizes.map((k, i) => [k, vals[i]]),
  symbol: 'none', silent: true,
  lineStyle: {color: '#ff0000', width: 0.8}, itemStyle: {color: '#ff0000'}
}));
series.push({
  type: 'scatter', name: 'Organism pair', xAxisIndex: 2, yAxisIndex: 2,
  data: organismPairsA.concat(organismPairsB), symbol: 'circle', symbolSize: 4.5, silent: true,
  itemStyle: {color: 'rgba(0,0,255,0)', borderColor: '#0000ff', borderWidth: 1}
});
series.push({
  type: 'line', name: 'Best polynomial fit', xAxisIndex: 2, yAxisIndex: 2,
  data: fitX.map((x, i) => [x, fitY[i]]), symbol: 'none', silent: true, smooth: true,
  lineStyle: {color: '#ff0000', width: 2}, itemStyle: {color: '#ff0000'}, z: 5
});

const tickIn = {inside: true, length: 5, lineStyle: {color: AX}};
const axLine = {onZero: false, lineStyle: {color: AX, width: 1}};

const option = {
  animation: false,
  backgroundColor: '#fff',
  grid: [
    {left: 79, top: 22, width: 490, height: 386, outerBoundsMode: 'none', containLabel: false},
    {left: 704, top: 20, width: 493, height: 387, outerBoundsMode: 'none', containLabel: false}
  ],
  xAxis: [
    {gridIndex: 0, type: 'value', min: 0, max: 50, position: 'bottom',
     axisLine: axLine, axisTick: Object.assign({customValues: kmerTicks}, tickIn),
     axisLabel: Object.assign({customValues: kmerTicks, margin: 6}, tickFont),
     splitLine: {show: false},
     name: 'K\u2212mer size', nameLocation: 'middle', nameGap: 22,
     nameTextStyle: {fontFamily: FONT, fontSize: 20, color: '#000'}},
    {gridIndex: 0, type: 'value', min: 0, max: 50, position: 'top',
     axisLine: axLine, axisTick: Object.assign({customValues: kmerTicks}, tickIn),
     axisLabel: {show: false}, splitLine: {show: false}},
    {gridIndex: 1, type: 'value', min: 0, max: 1, interval: 0.2, position: 'bottom',
     axisLine: axLine, axisTick: tickIn,
     axisLabel: Object.assign({margin: 6}, tickFont), splitLine: {show: false}}
  ],
  yAxis: [
    {gridIndex: 0, type: 'value', min: 0, max: 1, interval: 0.2, position: 'left',
     axisLine: axLine, axisTick: tickIn,
     axisLabel: Object.assign({margin: 7}, tickFont), splitLine: {show: false},
     name: 'Percent common kmers', nameLocation: 'middle', nameGap: 33,
     nameTextStyle: {fontFamily: FONT, fontSize: 20, color: '#000'}},
    {gridIndex: 0, type: 'value', min: 0, max: 1, interval: 0.2, position: 'right',
     axisLine: axLine, axisTick: tickIn, axisLabel: {show: false}, splitLine: {show: false}},
    {gridIndex: 1, type: 'value', min: 0, max: 1, interval: 0.2, position: 'left',
     axisLine: axLine, axisTick: tickIn,
     axisLabel: Object.assign({margin: 7}, tickFont), splitLine: {show: false}}
  ],
  legend: [
    {data: [
       {name: 'Same Genus', itemStyle: {opacity: 0}, lineStyle: {color: '#444', width: 1}},
       {name: 'Different Genera', itemStyle: {opacity: 0}, lineStyle: {color: '#ff8a8a', width: 1.2}}
     ],
     orient: 'vertical', left: 367, top: 27,
     padding: [5, 16, 4, 6], itemGap: 4, itemWidth: 33, itemHeight: 7,
     borderColor: '#444', borderWidth: 1, selectedMode: false,
     textStyle: {fontFamily: FONT, fontSize: 20, color: '#000'}},
    {data: [
       {name: 'Organism pair'},
       {name: 'Best polynomial fit', itemStyle: {opacity: 0}}
     ],
     orient: 'vertical', left: 976, top: 26,
     padding: [5, 12, 4, 7], itemGap: 4, itemWidth: 32, itemHeight: 7,
     borderColor: '#444', borderWidth: 1, selectedMode: false,
     textStyle: {fontFamily: FONT, fontSize: 20, color: '#000'}}
  ],
  graphic: [
    {type: 'text', left: 8, top: 11, style: {text: '(a)', font: '28px ' + FONT, fill: '#000'}},
    {type: 'text', left: 610, top: 11, style: {text: '(b)', font: '28px ' + FONT, fill: '#000'}},
    {type: 'text', x: 920, y: 432, style: {text: 'pckm', font: '20px ' + FONT, fill: '#000', align: 'left', verticalAlign: 'middle'}},
    {type: 'text', x: 968, y: 450, style: {text: '30', font: '14px ' + FONT, fill: '#000', align: 'left', verticalAlign: 'middle'}},
    {type: 'text', x: 648, y: 247, rotation: Math.PI / 2, style: {text: 'pckm', font: '20px ' + FONT, fill: '#000', align: 'left', verticalAlign: 'middle'}},
    {type: 'text', x: 659, y: 197, rotation: Math.PI / 2, style: {text: '50', font: '14px ' + FONT, fill: '#000', align: 'left', verticalAlign: 'middle'}}
  ],
  series: series
};

const chart = echarts.init(document.getElementById('chart'), null, {renderer: 'canvas'});
chart.setOption(option);
</script>
</body></html>
